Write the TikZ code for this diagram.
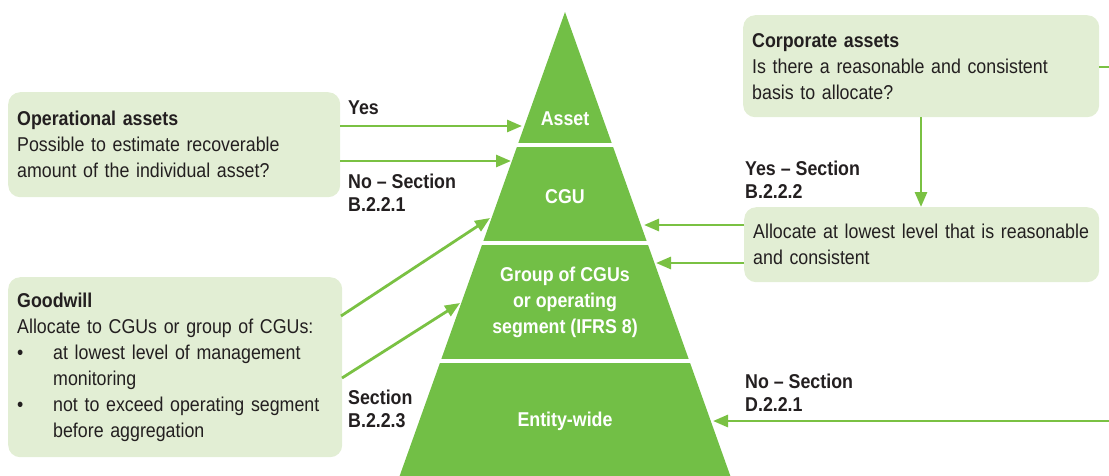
\documentclass[tikz,border=0pt]{standalone}
\usepackage{fontspec}
\setmainfont[FakeStretch=0.89]{Liberation Sans}
\usetikzlibrary{arrows.meta}
\definecolor{pyr}{RGB}{114,191,70}
\definecolor{arrc}{RGB}{122,193,67}
\definecolor{boxc}{RGB}{226,238,212}
\definecolor{txt}{RGB}{35,31,32}
\tikzset{
  box/.style={fill=boxc, rounded corners=12pt, draw=none, anchor=north west, align=left, inner xsep=9pt, inner ysep=0pt, text=txt, font=\fontsize{20}{26}\selectfont},
  lbl/.style={anchor=north west, align=left, inner sep=0pt, text=txt, font=\bfseries\fontsize{20}{23}\selectfont},
  tier/.style={align=center, inner sep=0pt, text=white, font=\bfseries\fontsize{20}{26}\selectfont},
  arr/.style={draw=arrc, line width=2.8pt, -{Triangle[length=15pt,width=12pt]}},
  plain/.style={draw=arrc, line width=2.8pt}
}
\begin{document}
\begin{tikzpicture}[x=1pt,y=-1pt]
\useasboundingbox (0,0) rectangle (1109,475);
\clip (0,0) rectangle (1109,475);
% pyramid
\coordinate (apex) at (565,12);
\fill[pyr] (apex) -- (395.7,487) -- (734.3,487) -- cycle;
\foreach \yy in {145,243,361}{
  \draw[white, line width=4pt] (380,\yy) -- (750,\yy);
}
\node[tier] (asset) at (565,119) {Asset};
\node[tier] (cgu) at (565,197) {CGU};
\node[tier] (grp) at (565,302) {Group of CGUs\\or operating\\segment (IFRS 8)};
\node[tier] (ent) at (565,421) {Entity-wide};
% boxes
\node[box, minimum width=332pt, minimum height=105pt, text width=314pt] (op) at (8,92)
  {\textbf{Operational assets}\\Possible to estimate recoverable\\amount of the individual asset?};
\node[box, minimum width=334pt, minimum height=180pt, text width=316pt] (gw) at (8,277)
  {\textbf{Goodwill}\\Allocate to CGUs or group of CGUs:\\
   \mbox{\makebox[36pt][l]{•}at lowest level of management}\\
   \hspace*{36pt}monitoring\\
   \mbox{\makebox[36pt][l]{•}not to exceed operating segment}\\
   \hspace*{36pt}before aggregation};
\node[box, minimum width=356pt, minimum height=102pt, text width=338pt] (corp) at (743,15)
  {\textbf{Corporate assets}\\\mbox{Is there a reasonable and consistent}\\basis to allocate?};
\node[box, minimum width=355pt, minimum height=75pt, text width=337pt] (alloc) at (744,207)
  {\mbox{Allocate at lowest level that is reasonable}\\and consistent};
% labels
\node[lbl] (lyes) at (348,101) {Yes};
\node[lbl] (lno) at (348,174) {No – Section\\B.2.2.1};
\node[lbl] (lsec) at (348,390) {Section\\B.2.2.3};
\node[lbl] (lyes2) at (745,161) {Yes – Section\\B.2.2.2};
\node[lbl] (lno2) at (745,374) {No – Section\\D.2.2.1};
% edge coordinates
\coordinate (tYes) at (522,126);
\coordinate (tNo) at (511,161);
\coordinate (tG1) at (490,218);
\coordinate (tG2) at (460,303);
\coordinate (tA1) at (644,225);
\coordinate (tA2) at (656,263);
\coordinate (tEnt) at (713,421);
\coordinate (rEdge) at (1109,421);
\coordinate (rStub) at (1109,67);
\coordinate (g1s) at (341,316);
\coordinate (g2s) at (342,378);
% connectors
\draw[arr] (op.east |- tYes) -- (tYes);
\draw[arr] (op.east |- tNo) -- (tNo);
\draw[arr] (g1s) -- (tG1);
\draw[arr] (g2s) -- (tG2);
\draw[arr] (alloc.west |- tA1) -- (tA1);
\draw[arr] (alloc.west |- tA2) -- (tA2);
\draw[arr] (corp.south -| 921,0) -- (alloc.north -| 921,0);
\draw[plain] (corp.east |- rStub) -- (rStub);
\draw[arr] (rEdge) -- (tEnt);
\end{tikzpicture}
\end{document}
